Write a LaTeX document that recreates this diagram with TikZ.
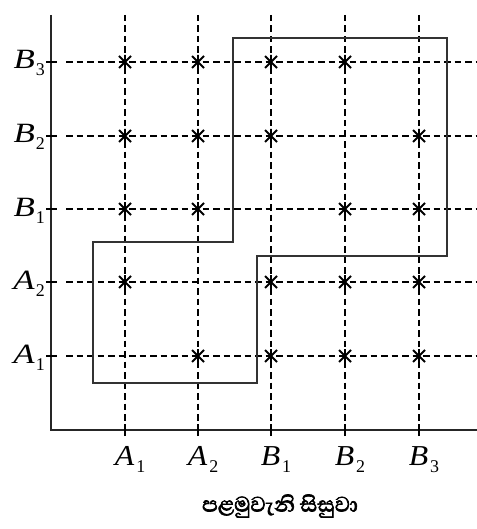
\documentclass[tikz,border=0pt]{standalone}
\usepackage{fontspec}
\setmainfont{Liberation Serif}
\newfontfamily\sinhfont[Script=Sinhala, FakeBold=2.5]{Abhaya Libre}
\newcommand\ylab[2]{\scalebox{1.25}[1]{\fontsize{28}{30}\selectfont\textit{#1}}\kern1bp\raisebox{-7bp}{\fontsize{18}{20}\selectfont #2}}
\newcommand\xlab[2]{\scalebox{1.1}[1]{\fontsize{29}{31}\selectfont\textit{#1}}\kern2bp\raisebox{-7bp}{\fontsize{18}{20}\selectfont #2}}
\begin{document}
\begin{tikzpicture}[x=1bp,y=-1bp,
  axis/.style={line width=1.8bp, black!85},
  grid/.style={line width=1.6bp, dash pattern=on 6.5bp off 4bp},
  frame/.style={line width=1.3bp, black!80},
  tick/.style={line width=1.5bp},
  ast/.pic={\draw[line width=1.9bp] (-6,-6)--(6,6) (-6,6)--(6,-6) (0,-7)--(0,7);}]
\useasboundingbox (0,0) rectangle (477,529);
% axes
\coordinate (O) at (51,430);
\coordinate (ytop) at (51,15);
\coordinate (xend) at (477,430);
\draw[axis] (ytop) -- (O) -- (xend);
% columns and rows
\foreach \i/\x in {1/125,2/198,3/271,4/345,5/419}{
  \coordinate (ct\i) at (\x,15);
  \coordinate (cb\i) at (\x,430);
  \draw[grid] (ct\i) -- (cb\i);
  \draw[tick] ([yshift=-6bp]cb\i) -- ([yshift=6bp]cb\i);
}
\foreach \j/\y in {1/356,2/282,3/209,4/136,5/62}{
  \coordinate (rl\j) at (51,\y);
  \coordinate (rs\j) at (66,\y);
  \coordinate (rr\j) at (477,\y);
  \draw[grid] (rs\j) -- (rr\j);
  \draw[tick] ([xshift=-5bp]rl\j) -- ([xshift=6bp]rl\j);
}
% stars
\foreach \i/\x in {1/125,2/198,3/271,4/345,5/419}{
  \foreach \j/\y in {1/356,2/282,3/209,4/136,5/62}{
    \ifnum\i=\j\relax\else
      \coordinate (p\i\j) at (\x,\y);
      \pic at (p\i\j) {ast};
    \fi
  }
}
% staircase frame
\coordinate (f1) at (93,242);
\coordinate (f2) at (233,242);
\coordinate (f3) at (233,38);
\coordinate (f4) at (447,38);
\coordinate (f5) at (447,256);
\coordinate (f6) at (257,256);
\coordinate (f7) at (257,383);
\coordinate (f8) at (93,383);
\draw[frame] (f1) -- (f2) -- (f3) -- (f4) -- (f5) -- (f6) -- (f7) -- (f8) -- cycle;
% y labels
\node[anchor=base east, inner sep=0] (yl5) at (45,69) {\ylab{B}{3}};
\node[anchor=base east, inner sep=0] (yl4) at (45,143) {\ylab{B}{2}};
\node[anchor=base east, inner sep=0] (yl3) at (45,216) {\ylab{B}{1}};
\node[anchor=base east, inner sep=0] (yl2) at (45,289) {\ylab{A}{2}};
\node[anchor=base east, inner sep=0] (yl1) at (45,363) {\ylab{A}{1}};
% x labels
\node[anchor=base, inner sep=0] (xl1) at (130,465) {\xlab{A}{1}};
\node[anchor=base, inner sep=0] (xl2) at (203,465) {\xlab{A}{2}};
\node[anchor=base, inner sep=0] (xl3) at (276,465) {\xlab{B}{1}};
\node[anchor=base, inner sep=0] (xl4) at (350,465) {\xlab{B}{2}};
\node[anchor=base, inner sep=0] (xl5) at (424,465) {\xlab{B}{3}};
% caption
\node[inner sep=0] (cap) at (280,506) {\sinhfont\fontsize{27}{30}\selectfont පළමුවැනි සිසුවා};
\end{tikzpicture}
\end{document}
